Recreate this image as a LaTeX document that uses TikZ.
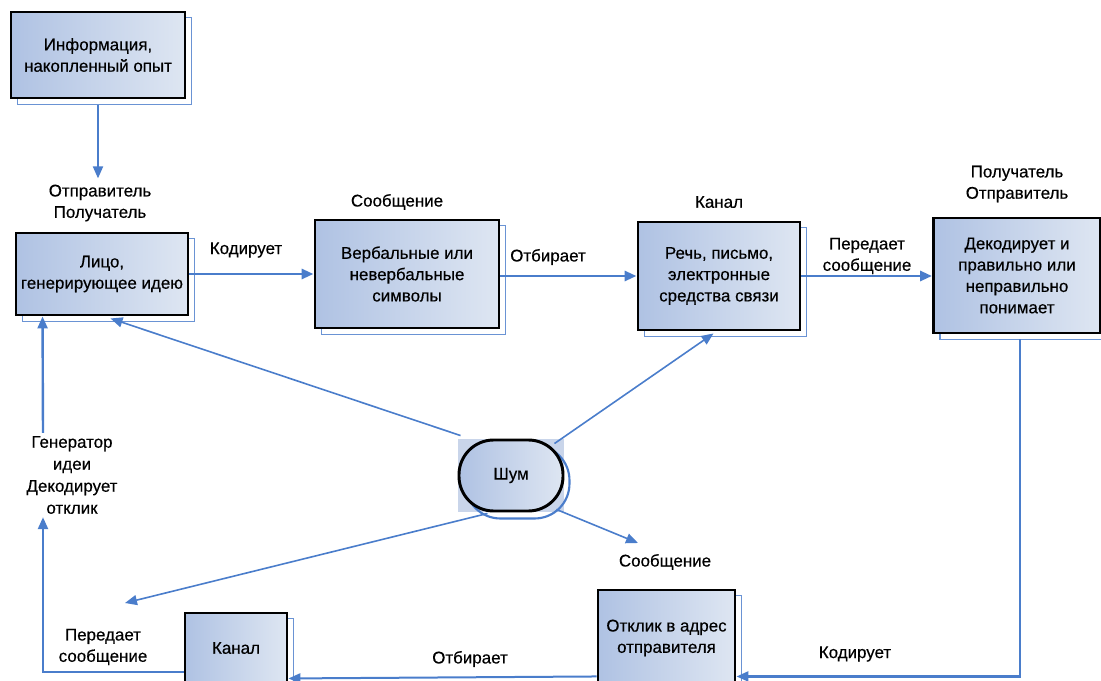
\documentclass[tikz,border=0pt]{standalone}
\usepackage{fontspec}
\setmainfont{Liberation Sans}
\newfontfamily\dfont{Liberation Sans}[FakeBold=0.4]
\usetikzlibrary{arrows.meta,calc,backgrounds}
\definecolor{boxL}{HTML}{AFC2E3}
\definecolor{boxR}{HTML}{DEE6F2}
\definecolor{lineblue}{HTML}{4A7DCB}
\definecolor{shadblue}{HTML}{6A93D4}
\definecolor{noisebg}{HTML}{C9D5EA}
\newlength\pxu \setlength\pxu{0.75pt}
\begin{document}
\begin{tikzpicture}[x=0.75pt,y=-0.75pt,
  every node/.style={font=\dfont\fontsize{12.7}{16}\selectfont, align=center, inner sep=0pt},
  boxnode/.style={draw=black, line width=2.2pt, left color=boxL, right color=boxR, rectangle},
  shadowline/.style={draw=shadblue, line width=1.3pt},
  conn/.style={draw=lineblue, line width=1.5pt, -{Triangle[length=9pt,width=7.5pt]}},
  thickconn/.style={conn, line width=2.2pt},
  lbl/.style={text=black}
]
\useasboundingbox (0,0) rectangle (1101,681);
\clip (0,0) rectangle (1101,681);

% boxes
\node[boxnode, minimum width=174\pxu, minimum height=86\pxu] (info) at (98,55) {Информация,\\накопленный опыт};
\node[boxnode, minimum width=172\pxu, minimum height=82\pxu] (src) at (102,274) {Лицо,\\генерирующее идею};
\node[boxnode, minimum width=184\pxu, minimum height=108\pxu] (msg) at (407,274) {Вербальные или\\невербальные\\символы};
\node[boxnode, minimum width=162\pxu, minimum height=108\pxu] (chan) at (719,276) {Речь, письмо,\\электронные\\средства связи};
\node[boxnode, minimum width=167\pxu, minimum height=115\pxu] (dec) at (1017,275.5) {Декодирует и\\правильно или\\неправильно\\понимает};
\node[boxnode, rounded corners=26pt, minimum width=104\pxu, minimum height=71\pxu] (noise) at (511,475.5) {Шум};
\node[boxnode, minimum width=102\pxu, minimum height=70\pxu] (chan2) at (236,648) {Канал};
\node[boxnode, minimum width=137\pxu, minimum height=96\pxu] (resp) at (666.5,638) {Отклик в адрес\\отправителя};

% labels
\node[lbl] (lblsrc) at (100,203) {Отправитель\\Получатель};
\node[lbl] (lblmsg) at (397,202) {Сообщение};
\node[lbl] (lblchan) at (719,202) {Канал};
\node[lbl] (lbldec) at (1017,184) {Получатель\\Отправитель};
\node[lbl] (lblcod) at (246,250) {Кодирует};
\node[lbl] (lblotb) at (548,257) {Отбирает};
\node[lbl] (lblper) at (867,256) {Передает\\сообщение};
\node[lbl, font=\dfont\fontsize{12.7}{16.5}\selectfont] (lblgen) at (72,475) {Генератор\\идеи\\Декодирует\\отклик};
\node[lbl] (lblper2) at (103,647) {Передает\\сообщение};
\node[lbl] (lblotb2) at (470,659) {Отбирает};
\node[lbl] (lblmsg2) at (665,562) {Сообщение};
\node[lbl] (lblcod2) at (855,654) {Кодирует};

% shadows
\begin{scope}[on background layer]
  \clip (0,0) rectangle (1101,681);
  \foreach \b in {info,src,msg,chan,dec,chan2,resp}{
    \draw[shadowline] ($(\b.north west)+(8,7)$) rectangle ($(\b.south east)+(5,5)$);
  }
  \fill[noisebg] (noise.north west) rectangle (noise.south east);
  \draw[shadowline, line width=1.6pt, draw=lineblue, rounded corners=26pt] ($(noise.north west)+(8,7)$) rectangle ($(noise.south east)+(5,6)$);
\end{scope}

% connectors
\draw[conn] ($(info.south)+(0,6)$) -- ($(lblsrc.north)+(-2,-6)$);
\draw[thickconn] (src.east) -- (src.east -| msg.west);
\draw[thickconn] (msg.east |- chan.west) -- (chan.west);
\draw[thickconn] (chan.east) -- (chan.east -| dec.west);
\draw[conn, line width=1.8pt] ($(dec.south)+(3,5)$) |- ($(resp.south east)+(0,-11)$);
\draw[conn] ($(resp.south west)+(0,-11)$) -- ($(chan2.south east)+(0,-6)$);
\draw[conn, line width=1.8pt] ($(chan2.west)+(0,24)$) -| ($(lblgen.south)+(-29,3)$);
\draw[conn, line width=1.8pt] ($(lblgen.north)+(-29,-3)$) -- ($(src.south west)+(28,0)$);

% noise connectors
\coordinate (n3end) at (125,603);
\coordinate (n4end) at (638,543);
\draw[conn, line width=1.2pt] ($(noise.north west)+(3,-3)$) -- ($(src.south west)+(96,2)$);
\draw[conn, line width=1.2pt] ($(noise.north east)+(-10,5)$) -- ($(chan.south west)+(77,2)$);
\draw[conn, line width=1.2pt] ($(noise.south west)+(30,1)$) -- (n3end);
\draw[conn, line width=1.2pt] ($(noise.south east)+(-8,-3)$) -- (n4end);
\end{tikzpicture}
\end{document}
